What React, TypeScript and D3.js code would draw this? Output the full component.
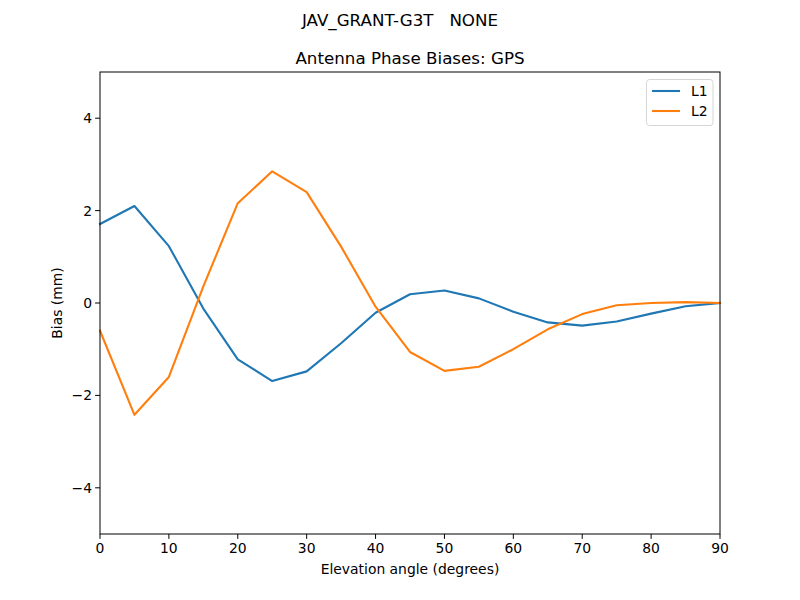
import React from "react";
import * as d3 from "d3";

const elevation = [0, 5, 10, 15, 20, 25, 30, 35, 40, 45, 50, 55, 60, 65, 70, 75, 80, 85, 90];
const l1Values = [1.71, 2.10, 1.23, -0.12, -1.22, -1.69, -1.48, -0.87, -0.21, 0.19, 0.27, 0.10, -0.19, -0.42, -0.49, -0.40, -0.23, -0.07, 0.0];
const l2Values = [-0.60, -2.42, -1.60, 0.36, 2.16, 2.85, 2.40, 1.22, -0.08, -1.06, -1.47, -1.38, -1.00, -0.57, -0.24, -0.05, 0.0, 0.02, 0.0];
const xTicks = [0, 10, 20, 30, 40, 50, 60, 70, 80, 90];
const yTicks = [-4, -2, 0, 2, 4];
const seriesNames = ["L1", "L2"];
const seriesColors = ["#1f77b4", "#ff7f0e"];

const W = 800, H = 600;
const left = 100, right = 720, top = 72, bottom = 534;
const font = "DejaVu Sans, sans-serif";

export default function App() {
  const x = d3.scaleLinear().domain([0, 90]).range([left, right]);
  const y = d3.scaleLinear().domain([-5, 5]).range([bottom, top]);
  const series = [l1Values, l2Values];
  const line = d3.line<number>().x((_, i) => x(elevation[i])).y(d => y(d));
  const fmt = (v: number) => (v < 0 ? "\u2212" + Math.abs(v) : String(v));
  return (
    <svg width={W} height={H} style={{ position: "absolute", left: 0, top: 0, background: "#fff" }} fontFamily={font}>
      <rect x={0} y={0} width={W} height={H} fill="#fff" />
      <text x={400} y={26} textAnchor="middle" fontSize={16.7} style={{ whiteSpace: "pre" }} xmlSpace="preserve">JAV_GRANT-G3T   NONE</text>
      <text x={410} y={64} textAnchor="middle" fontSize={16.7}>Antenna Phase Biases: GPS</text>
      {series.map((s, k) => (
        <path key={k} d={line(s) || ""} fill="none" stroke={seriesColors[k]} strokeWidth={2.1} strokeLinejoin="round" strokeLinecap="square" />
      ))}
      <rect x={left} y={top} width={right - left} height={bottom - top} fill="none" stroke="#000" strokeWidth={1} />
      {xTicks.map(t => (
        <g key={t}>
          <line x1={x(t)} x2={x(t)} y1={bottom} y2={bottom + 4.9} stroke="#000" />
          <text x={x(t)} y={bottom + 19} textAnchor="middle" fontSize={13.9}>{fmt(t)}</text>
        </g>
      ))}
      {yTicks.map(t => (
        <g key={t}>
          <line x1={left - 4.9} x2={left} y1={y(t)} y2={y(t)} stroke="#000" />
          <text x={left - 8} y={y(t) + 5} textAnchor="end" fontSize={13.9}>{fmt(t)}</text>
        </g>
      ))}
      <text x={410} y={574} textAnchor="middle" fontSize={13.9}>Elevation angle (degrees)</text>
      <text transform={`translate(62,${(top + bottom) / 2}) rotate(-90)`} textAnchor="middle" fontSize={13.9}>Bias (mm)</text>
      <rect x={646.5} y={79.5} width={66.5} height={46} rx={3} fill="#fff" stroke="#ccc" strokeWidth={1} opacity={0.8} />
      {seriesNames.map((n, k) => (
        <g key={n}>
          <line x1={652} x2={680} y1={91 + k * 20} y2={91 + k * 20} stroke={seriesColors[k]} strokeWidth={2.1} />
          <text x={691} y={96 + k * 20} fontSize={13.9}>{n}</text>
        </g>
      ))}
    </svg>
  );
}
